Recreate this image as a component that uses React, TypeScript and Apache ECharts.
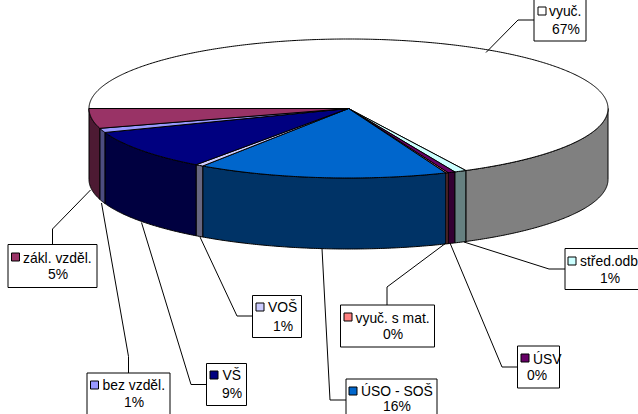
import React, { useEffect, useRef } from "react";
import * as echarts from "echarts";

const categories = ["vyuč.", "střed.odb", "ÚSV", "vyuč. s mat.", "ÚSO - SOŠ", "VOŠ", "VŠ", "bez vzděl.", "zákl. vzděl."];
const values = [67.5, 0.75, 0.45, 0.15, 15.6, 0.5, 9.4, 1.0, 4.6];
const percentLabels = ["67%", "1%", "0%", "0%", "16%", "1%", "9%", "1%", "5%"];
const topColors = ["#FFFFFF", "#CCFFFF", "#660066", "#FF8080", "#0066CC", "#CCCCFF", "#000080", "#9999FF", "#993366"];
const sideColors = ["#808080", "#668080", "#330033", "#804040", "#003366", "#666680", "#000040", "#4D4D80", "#4D1A33"];

const CX = 348.5, CY = 108.5, RX = 259.5, RY = 69.5, DEPTH = 71, START = 270;
const FONT = "Liberation Sans, Arial, sans-serif";
const FS = 13.9;

// box: x,y,w,h; swatch x,y; text x; line-1 y; percent centre x; line-2 y; leader polyline
const layout = [
  { box: [534, -3, 52, 44], sw: [538, 7], tx: 549, y1: 11, px: 566, y2: 29, lead: [[486, 52.5], [518, 20], [534, 20]] },
  { box: [565, 248.5, 90, 41], sw: [568, 257], tx: 580, y1: 261, px: 610, y2: 278, lead: [[464, 242], [549, 269], [565, 269]] },
  { box: [517.5, 346, 42, 42], sw: [521, 354], tx: 533, y1: 359, px: 537, y2: 375, lead: [[450, 243], [502, 367], [517.5, 367]] },
  { box: [340.5, 305, 94, 42], sw: [344, 313], tx: 355.5, y1: 318, px: 393, y2: 334, lead: [[446, 243], [387, 287], [387, 305]] },
  { box: [346, 379, 91, 42], sw: [349, 387], tx: 361, y1: 391, px: 397, y2: 405.5, lead: [[322, 248.5], [330, 400], [346, 400]] },
  { box: [252.5, 295.5, 49, 42], sw: [256, 303], tx: 268, y1: 307, px: 283, y2: 326, lead: [[200, 237], [237, 316], [252.5, 316]] },
  { box: [206.5, 363.5, 40, 42], sw: [210, 371], tx: 222.5, y1: 375, px: 232, y2: 393, lead: [[141.5, 222.5], [191, 384.5], [206.5, 384.5]] },
  { box: [87, 373, 83, 43], sw: [90.5, 381], tx: 102.5, y1: 385, px: 134, y2: 402, lead: [[101.5, 203], [128.5, 356.5], [128.5, 373]] },
  { box: [8, 244.5, 89, 43], sw: [11.5, 253], tx: 23, y1: 258, px: 58, y2: 274, lead: [[90.5, 190], [52.5, 229], [52.5, 244.5]] },
];

const pt = (deg: number, dy = 0): number[] => {
  const r = (deg * Math.PI) / 180;
  return [CX + RX * Math.sin(r), CY - RY * Math.cos(r) + dy];
};
const arc = (a: number, b: number, dy = 0) => {
  const out: number[][] = [];
  const n = Math.max(2, Math.ceil(Math.abs(b - a) * 2));
  for (let i = 0; i <= n; i++) out.push(pt(a + ((b - a) * i) / n, dy));
  return out;
};

export default function App() {
  const ref = useRef<HTMLDivElement>(null);
  useEffect(() => {
    document.body.style.margin = "0";
    const chart = echarts.init(ref.current!, undefined, { renderer: "svg" });
    const total = values.reduce((a, b) => a + b, 0);
    let acc = START;
    const data = values.map((v, i) => {
      const s = acc;
      acc += (v / total) * 360;
      return [s, acc, i];
    });
    const graphics: any[] = [];
    layout.forEach((l, i) => {
      graphics.push({ type: "polyline", silent: true, z: 10, shape: { points: l.lead }, style: { stroke: "#000", lineWidth: 1, fill: "none" } });
      graphics.push({ type: "rect", silent: true, z: 11, shape: { x: l.box[0], y: l.box[1], width: l.box[2], height: l.box[3] }, style: { fill: "#fff", stroke: "#000", lineWidth: 1 } });
      graphics.push({ type: "rect", silent: true, z: 12, shape: { x: l.sw[0], y: l.sw[1], width: 8, height: 8 }, style: { fill: topColors[i], stroke: "#000", lineWidth: 1 } });
      graphics.push({ type: "text", silent: true, z: 12, style: { x: l.tx, y: l.y1, text: categories[i], fill: "#000", font: `${FS}px ${FONT}`, textAlign: "left", textVerticalAlign: "middle" } });
      graphics.push({ type: "text", silent: true, z: 12, style: { x: l.px, y: l.y2, text: percentLabels[i], fill: "#000", font: `${FS}px ${FONT}`, textAlign: "center", textVerticalAlign: "middle" } });
    });
    chart.setOption({
      animation: false,
      backgroundColor: "#fff",
      tooltip: { show: false },
      graphic: graphics,
      series: [
        {
          type: "custom",
          coordinateSystem: "none",
          silent: true,
          data,
          renderItem: (_p: any, api: any) => {
            const a = api.value(0), b = api.value(1), i = api.value(2);
            const children: any[] = [];
            for (const [lo, hi] of [[90, 270], [450, 630]]) {
              const s = Math.max(a, lo), e = Math.min(b, hi);
              if (e > s) {
                children.push({
                  type: "polygon",
                  shape: { points: [...arc(s, e), ...arc(e, s, DEPTH)] },
                  style: { fill: sideColors[i], stroke: "#000", lineWidth: 1, lineJoin: "round" },
                });
              }
            }
            children.push({
              type: "polygon",
              shape: { points: [[CX, CY], ...arc(a, b)] },
              style: { fill: topColors[i], stroke: "#000", lineWidth: 1, lineJoin: "round" },
            });
            return { type: "group", children };
          },
        },
      ],
    });
    return () => chart.dispose();
  }, []);
  return <div ref={ref} style={{ width: 638, height: 414 }} />;
}
